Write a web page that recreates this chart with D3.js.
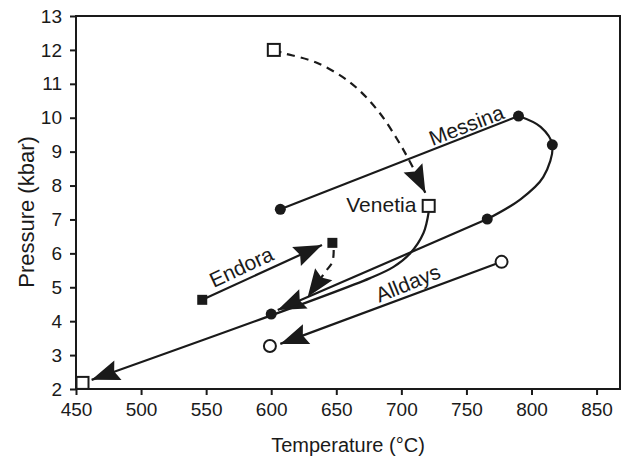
<!DOCTYPE html>
<html>
<head>
<meta charset="utf-8">
<title>P-T paths</title>
<script src="https://cdn.jsdelivr.net/npm/d3@7/dist/d3.min.js"></script>
<style>
  body { margin: 0; background: #fff; }
  svg text { font-family: "Liberation Sans", Arial, Helvetica, sans-serif; fill: #1a1a1a; }
  .axis line { stroke: #1a1a1a; stroke-width: 2; }
  .axis text { font-size: 19px; }
  .lbl { font-size: 20px; }
  .name { font-size: 21px; }
  .path { fill: none; stroke: #1a1a1a; stroke-width: 2.2; }
</style>
</head>
<body>
<div id="chart"></div>
<script>
// tick values
var xTicks = [450, 500, 550, 600, 650, 700, 750, 800, 850];
var yTicks = [2, 3, 4, 5, 6, 7, 8, 9, 10, 11, 12, 13];

// Messina (filled circles)
var messinaPts = [[607, 7.3], [790, 10.05], [816, 9.2], [766, 7.01], [600, 4.21]];
var messinaUp = [[607, 7.3], [790, 10.05]];
var messinaLoop = [[790, 10.05], [807, 9.73], [816, 9.2], [809, 8.25], [791, 7.58], [766, 7.01]];
var messinaDown = [[766, 7.01], [605, 4.33]];

// Venetia (open squares)
var venetiaPts = [[602, 12], [721, 7.4], [455, 2.18]];
var venetiaDashed = [[602, 12], [609, 11.91], [635, 11.62], [661, 11.03], [681.5, 10.23], [697, 9.35], [707, 8.67], [718.5, 7.78]];
var venetiaDown = [[721, 7.22], [717, 6.6], [707, 6.01], [694, 5.6], [676, 5.27], [462, 2.27]];

// Endora (filled squares)
var endoraPts = [[547, 4.63], [647, 6.31]];
var endoraUp = [[547, 4.63], [639, 6.25]];
var endoraDashed = [[648, 6.1], [647, 5.75], [641.5, 5.45], [628, 4.71]];

// Alldays (open circles)
var alldaysPts = [[777, 5.75], [599, 3.27]];
var alldaysDown = [[777, 5.75], [607, 3.33]];

var W = 623, H = 462;
var svg = d3.select("#chart").append("svg")
  .attr("width", W)
  .attr("height", H);

var x = d3.scaleLinear().domain([450, 868]).range([76, 620]);
var y = d3.scaleLinear().domain([2, 13]).range([389, 16]);

// frame
svg.append("rect")
  .attr("x", x(450)).attr("y", y(13))
  .attr("width", x(868) - x(450)).attr("height", y(2) - y(13))
  .attr("fill", "none").attr("stroke", "#1a1a1a").attr("stroke-width", 2);

svg.append("g")
  .attr("class", "axis")
  .attr("transform", "translate(0," + y(2) + ")")
  .call(d3.axisBottom(x).tickValues(xTicks).tickSize(6).tickPadding(8).tickSizeOuter(0))
  .call(g => g.select(".domain").remove());

svg.append("g")
  .attr("class", "axis")
  .attr("transform", "translate(" + x(450) + ",0)")
  .call(d3.axisLeft(y).tickValues(yTicks).tickSize(6).tickPadding(8).tickSizeOuter(0))
  .call(g => g.select(".domain").remove());

svg.append("text").attr("class", "lbl")
  .attr("x", 348).attr("y", 452)
  .attr("text-anchor", "middle")
  .text("Temperature (°C)");

svg.append("text").attr("class", "lbl")
  .attr("transform", "translate(34,212) rotate(-90)")
  .attr("text-anchor", "middle")
  .style("font-size", "22px")
  .text("Pressure (kbar)");

var straight = d3.line().x(d => x(d[0])).y(d => y(d[1]));
var smooth = d3.line().x(d => x(d[0])).y(d => y(d[1])).curve(d3.curveCatmullRom.alpha(0.5));

function drawPath(pts, curved, dashed) {
  svg.append("path")
    .attr("class", "path")
    .attr("d", (curved ? smooth : straight)(pts))
    .attr("stroke-dasharray", dashed ? "8,6" : null);
}

// arrowhead at the last point of a path
function arrow(pts) {
  var a = pts[pts.length - 2], b = pts[pts.length - 1];
  var x0 = x(a[0]), y0 = y(a[1]), x1 = x(b[0]), y1 = y(b[1]);
  var ang = Math.atan2(y1 - y0, x1 - x0) * 180 / Math.PI;
  svg.append("path")
    .attr("d", "M0,0 L-28,-10.5 L-24,0 L-28,10.5 Z")
    .attr("fill", "#1a1a1a")
    .attr("transform", "translate(" + x1 + "," + y1 + ") rotate(" + ang + ")");
}

drawPath(messinaUp, false);
drawPath(messinaLoop, true);
drawPath(messinaDown, false);
arrow(messinaDown);

drawPath(venetiaDashed, true, true);
arrow(venetiaDashed);
drawPath(venetiaDown, true);
arrow(venetiaDown);

drawPath(endoraUp, false);
arrow(endoraUp);
drawPath(endoraDashed, true, true);
arrow(endoraDashed);

drawPath(alldaysDown, false);
arrow(alldaysDown);

// markers
svg.selectAll(".mc").data(messinaPts).enter().append("circle")
  .attr("cx", d => x(d[0])).attr("cy", d => y(d[1])).attr("r", 5.5)
  .attr("fill", "#1a1a1a");

svg.selectAll(".ac").data(alldaysPts).enter().append("circle")
  .attr("cx", d => x(d[0])).attr("cy", d => y(d[1])).attr("r", 6)
  .attr("fill", "#fff").attr("stroke", "#1a1a1a").attr("stroke-width", 2);

svg.selectAll(".es").data(endoraPts).enter().append("rect")
  .attr("x", d => x(d[0]) - 5).attr("y", d => y(d[1]) - 5)
  .attr("width", 10).attr("height", 10)
  .attr("fill", "#1a1a1a");

svg.selectAll(".vs").data(venetiaPts).enter().append("rect")
  .attr("x", d => x(d[0]) - 6).attr("y", d => y(d[1]) - 6)
  .attr("width", 12).attr("height", 12)
  .attr("fill", "#fff").attr("stroke", "#1a1a1a").attr("stroke-width", 2);

// path names
function label(t, px, py, rot, anchor) {
  svg.append("text").attr("class", "name")
    .attr("transform", "translate(" + x(px) + "," + y(py) + ") rotate(" + rot + ")")
    .attr("text-anchor", anchor || "middle")
    .attr("dy", "0.35em")
    .text(t);
}
label("Messina", 750, 9.78, -21);
label("Venetia", 711.5, 7.45, 0, "end");
label("Endora", 577, 5.6, -25);
label("Alldays", 705, 5.12, -22);
</script>
</body>
</html>
